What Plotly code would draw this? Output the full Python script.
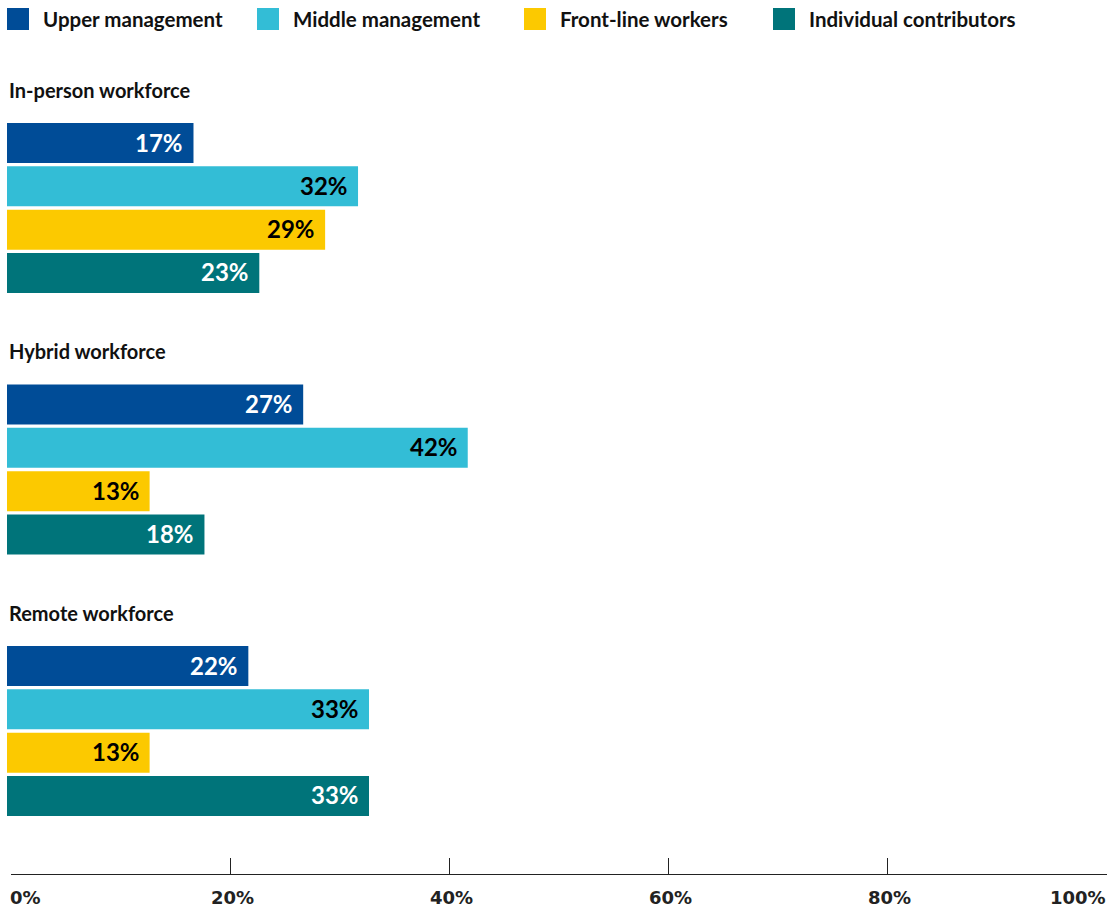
import plotly.graph_objects as go

# ---- data ----
groups = ["In-person workforce", "Hybrid workforce", "Remote workforce"]
series = ["Upper management", "Middle management", "Front-line workers", "Individual contributors"]
upper_mgmt = [17, 27, 22]
middle_mgmt = [32, 42, 33]
front_line = [29, 13, 13]
individual = [23, 18, 33]
tick_values = [0, 20, 40, 60, 80, 100]

values = [upper_mgmt, middle_mgmt, front_line, individual]
colors = ["#004C97", "#33BDD6", "#FCC900", "#00747A"]
label_colors = ["white", "black", "black", "white"]

W, H = 1108, 909
FONT = "Lato"
NUM_FONT = "DejaVu Sans"

# vertical layout (y axis runs in screen pixels, top = 0)
AXIS_Y = 874
FIRST_BAR = 143
GROUP_STEP = 261.5
BAR_STEP = 43.33
BAR_W = 40
TITLE_OFFSET = -53.5


def bar_y(g, k):
    return FIRST_BAR + g * GROUP_STEP + k * BAR_STEP


fig = go.Figure()
annotations = []

for k, (name, vals, col, lcol) in enumerate(zip(series, values, colors, label_colors)):
    ys = [bar_y(g, k) for g in range(len(groups))]
    fig.add_trace(go.Bar(
        x=vals, y=ys, orientation="h", name=name,
        marker=dict(color=col, line=dict(width=0)),
        width=BAR_W, showlegend=False, hoverinfo="skip",
        xaxis="x", yaxis="y",
    ))
    for v, y in zip(vals, ys):
        annotations.append(dict(
            x=v, y=y, xref="x", yref="y", text=f"{v}%",
            xanchor="right", yanchor="middle", xshift=-8, yshift=1,
            showarrow=False,
            font=dict(family=FONT, size=24, color=lcol, weight=700),
        ))

# group titles
for g, title in enumerate(groups):
    annotations.append(dict(
        x=7 / W, y=bar_y(g, 0) + TITLE_OFFSET, xref="paper", yref="y",
        text=title, xanchor="left", yanchor="middle", showarrow=False,
        font=dict(family=FONT, size=20, color="#111111", weight=700),
    ))

# custom legend: square swatches with bold labels
legend_x = [7, 257, 524, 773]
SW = 22
shapes = []
for lx, name, col in zip(legend_x, series, colors):
    shapes.append(dict(
        type="rect", xref="paper", yref="paper",
        x0=lx / W, x1=(lx + SW) / W,
        y0=1 - 8 / H, y1=1 - (8 + SW) / H,
        fillcolor=col, line=dict(width=0),
    ))
    annotations.append(dict(
        x=(lx + 34) / W, y=1 - 18.5 / H, xref="paper", yref="paper",
        text=name, xanchor="left", yanchor="middle", showarrow=False,
        font=dict(family=FONT, size=20.5, color="#111111", weight=700),
    ))

# tick labels on the percentage axis
for i, t in enumerate(tick_values):
    anchor = "left" if i == 0 else ("right" if i == len(tick_values) - 1 else "center")
    annotations.append(dict(
        x=t, y=(H - 897) / H, xref="x2", yref="paper", text=f"{t}%",
        xanchor=anchor, yanchor="middle", showarrow=False,
        xshift=-3 if i == 0 else (2 if 0 < i < len(tick_values) - 1 else 1),
        font=dict(family=NUM_FONT, size=18, color="#222222", weight=700),
    ))

fig.update_layout(
    width=W, height=H,
    margin=dict(l=0, r=0, t=0, b=0),
    paper_bgcolor="white", plot_bgcolor="rgba(0,0,0,0)",
    barmode="overlay",
    showlegend=False,
    xaxis=dict(
        domain=[7 / W, 1104 / W], range=[0, 100], visible=False,
        fixedrange=True,
    ),
    xaxis2=dict(
        domain=[11 / W, 1107 / W], range=[0, 100], anchor="y",
        showline=True, linecolor="#222222", linewidth=1.3,
        ticks="inside", ticklen=16, tickcolor="#222222", tickwidth=1.2,
        tickvals=tick_values, showticklabels=False,
        showgrid=False, zeroline=False,
    ),
    yaxis=dict(
        domain=[(H - AXIS_Y) / H, 1], range=[AXIS_Y, 0], visible=False,
        fixedrange=True,
    ),
    annotations=annotations,
    shapes=shapes,
)

fig.write_html("out.html")
